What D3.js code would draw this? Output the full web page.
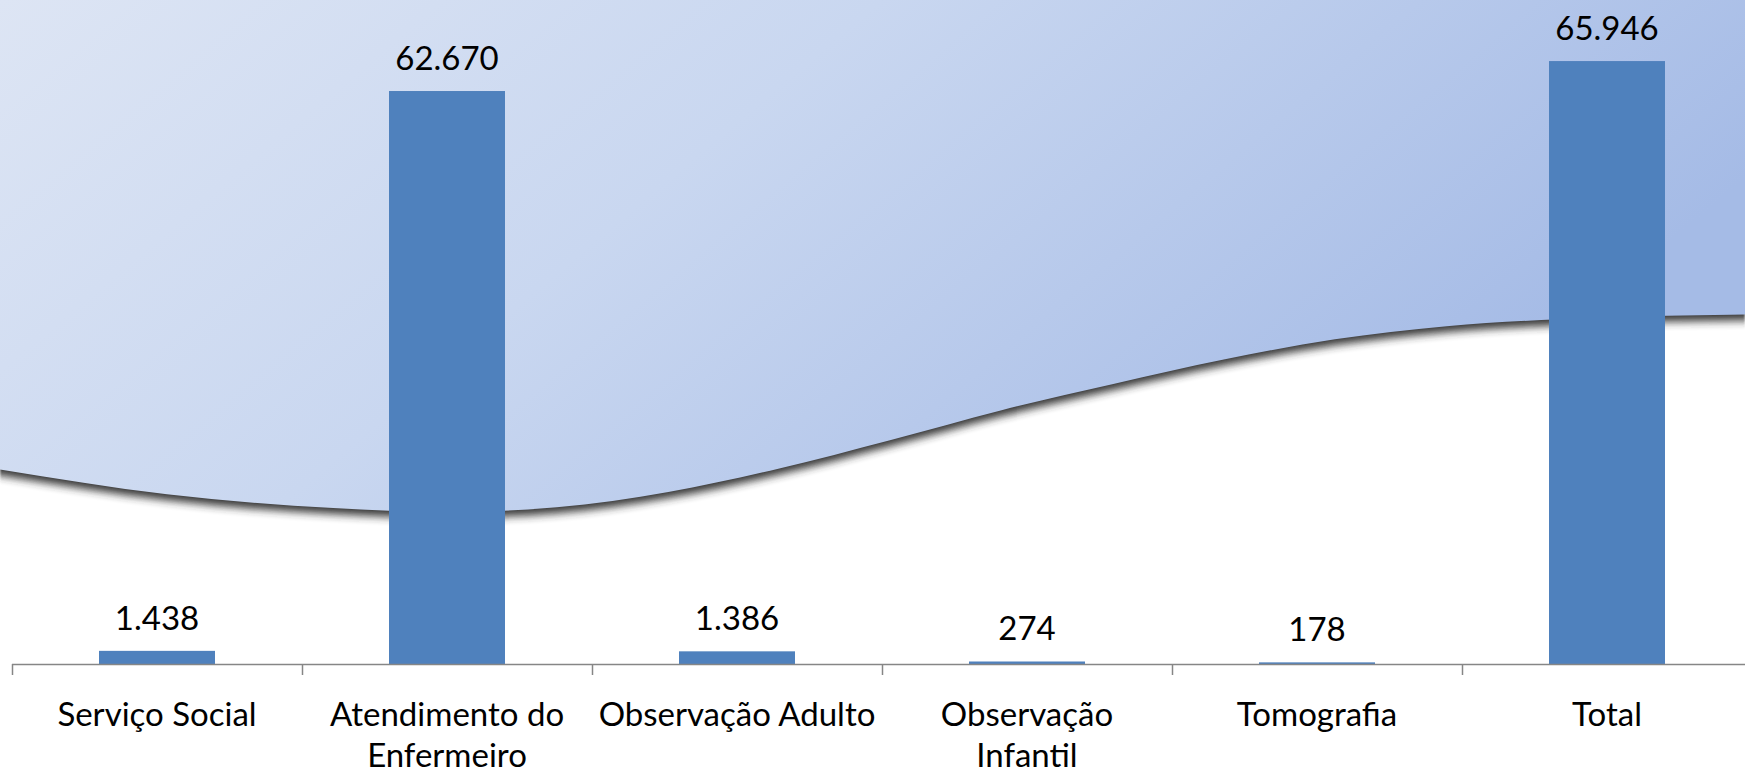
<!DOCTYPE html>
<html>
<head>
<meta charset="utf-8">
<script src="https://cdn.jsdelivr.net/npm/d3@7"></script>
<style>
  html, body { margin: 0; padding: 0; background: #fff; }
  svg { display: block; }
  text { font-family: Lato, "Open Sans", sans-serif; fill: #000; }
</style>
</head>
<body>
<div class="main-container"></div>
<script>
// chart data
var categories = ["Serviço Social", "Atendimento do\nEnfermeiro", "Observação Adulto", "Observação\nInfantil", "Tomografia", "Total"];
var values = [1438, 62670, 1386, 274, 178, 65946];
var valueLabels = ["1.438", "62.670", "1.386", "274", "178", "65.946"];

// background wave, as fractions of the page
var waveX = [0, 0.0957, 0.191, 0.255, 0.319, 0.383, 0.446, 0.510, 0.574, 0.638, 0.702, 0.765, 0.829, 0.893, 1];
var waveY = [0.609, 0.641, 0.659, 0.664, 0.658, 0.638, 0.608, 0.571, 0.532, 0.498, 0.466, 0.440, 0.423, 0.414, 0.408];

var width = 1745, height = 771;

var svg = d3.select(".main-container")
    .append("svg")
    .attr("width", width)
    .attr("height", height);

var defs = svg.append("defs");
var grad = defs.append("linearGradient")
    .attr("id", "bgGrad")
    .attr("x1", 0).attr("y1", 0)
    .attr("x2", 1).attr("y2", 0.35);
grad.append("stop").attr("offset", 0).attr("stop-color", "#dde5f4");
grad.append("stop").attr("offset", 0.45).attr("stop-color", "#c9d7f0");
grad.append("stop").attr("offset", 1).attr("stop-color", "#a5bbe6");

defs.append("filter")
    .attr("id", "blur")
    .attr("x", "-5%").attr("y", "-5%")
    .attr("width", "110%").attr("height", "120%")
    .append("feGaussianBlur")
    .attr("stdDeviation", "1 4.5");

// wave
var wx = d3.scaleLinear().domain([0, 1]).range([0, width]);
var wy = d3.scaleLinear().domain([0, 1]).range([0, height]);
var wavePts = waveX.map(function (d, i) { return [d, waveY[i]]; });

var waveArea = d3.area()
    .x(function (d) { return wx(d[0]); })
    .y0(0)
    .y1(function (d) { return wy(d[1]); })
    .curve(d3.curveMonotoneX);

svg.append("path")
    .datum(wavePts)
    .attr("d", waveArea)
    .attr("transform", "translate(0,6)")
    .style("fill", "#2e2e2e")
    .style("opacity", 0.95)
    .attr("filter", "url(#blur)");

svg.append("path")
    .datum(wavePts)
    .attr("d", waveArea)
    .style("fill", "url(#bgGrad)");

// scales
var x = d3.scaleBand()
    .domain(categories)
    .range([12, 12 + 6 * 290])
    .paddingInner(0.6)
    .paddingOuter(0.3);

var y = d3.scaleLinear()
    .domain([0, 70000])
    .range([664, 24]);

// bars
svg.selectAll("rect.bar")
    .data(values)
    .enter()
    .append("rect")
    .attr("class", "bar")
    .attr("x", function (d, i) { return x(categories[i]); })
    .attr("width", x.bandwidth())
    .attr("y", function (d) { return y(d); })
    .attr("height", function (d) { return y(0) - y(d); })
    .style("fill", "#4f81bd");

// value labels
svg.selectAll("text.val")
    .data(values)
    .enter()
    .append("text")
    .attr("class", "val")
    .attr("x", function (d, i) { return x(categories[i]) + x.bandwidth() / 2; })
    .attr("y", function (d) { return y(d) - 21; })
    .attr("text-anchor", "middle")
    .style("font-size", "33px")
    .text(function (d, i) { return valueLabels[i]; });

// axis line and ticks at category boundaries
var gap = (x.step() - x.bandwidth()) / 2;
var bounds = categories.map(function (c) { return x(c) - gap; });
bounds.push(x(categories[categories.length - 1]) + x.bandwidth() + gap);

svg.append("line")
    .attr("x1", bounds[0]).attr("x2", width)
    .attr("y1", y(0) + 0.5).attr("y2", y(0) + 0.5)
    .style("stroke", "#868686")
    .style("stroke-width", 1.5);

svg.selectAll("line.tick")
    .data(bounds)
    .enter()
    .append("line")
    .attr("class", "tick")
    .attr("x1", function (d) { return Math.round(d) + 0.5; })
    .attr("x2", function (d) { return Math.round(d) + 0.5; })
    .attr("y1", y(0))
    .attr("y2", y(0) + 11)
    .style("stroke", "#868686")
    .style("stroke-width", 1.5);

// category labels
var catText = svg.selectAll("text.cat")
    .data(categories)
    .enter()
    .append("text")
    .attr("class", "cat")
    .attr("text-anchor", "middle")
    .style("font-size", "33px");

catText.each(function (d) {
    var t = d3.select(this);
    var cx = x(d) + x.bandwidth() / 2;
    d.split("\n").forEach(function (line, j) {
        t.append("tspan")
            .attr("x", cx)
            .attr("y", 726 + j * 41)
            .text(line);
    });
});
</script>
</body>
</html>
